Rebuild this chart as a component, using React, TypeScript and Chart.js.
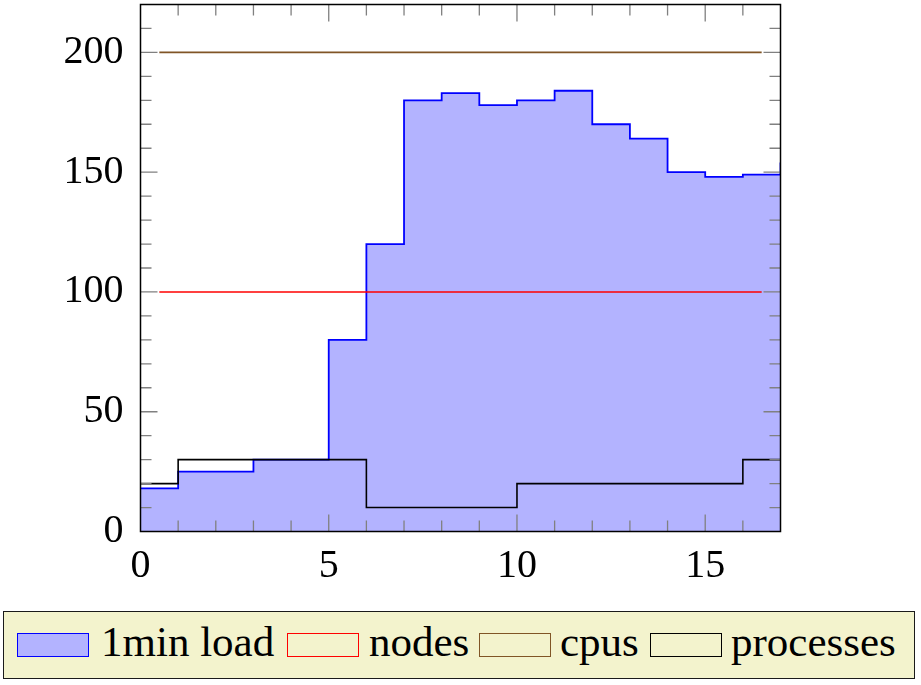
import { useEffect, useRef } from "react";
import { Chart, registerables, Plugin } from "chart.js";
Chart.register(...registerables);

// time steps (each value holds until the next step)
const steps = [0, 1, 2, 3, 4, 5, 6, 7, 8, 9, 10, 11, 12, 13, 14, 15, 16, 17];
const loadValues = [18, 25, 25, 30, 30, 80, 120, 180, 183, 178, 180, 184, 170, 164, 150, 148, 149, 154];
const processValues = [20, 30, 30, 30, 30, 30, 10, 10, 10, 10, 20, 20, 20, 20, 20, 20, 30, 30];

// nodes / cpus are sampled at the middle of each step
const midSteps = [0.5, 1.5, 2.5, 3.5, 4.5, 5.5, 6.5, 7.5, 8.5, 9.5, 10.5, 11.5, 12.5, 13.5, 14.5, 15.5, 16.5];
const nodeValues = [100, 100, 100, 100, 100, 100, 100, 100, 100, 100, 100, 100, 100, 100, 100, 100, 100];
const cpuValues = [200, 200, 200, 200, 200, 200, 200, 200, 200, 200, 200, 200, 200, 200, 200, 200, 200];

const xTicks = [0, 5, 10, 15];
const yTicks = [0, 50, 100, 150, 200];

const seriesNames = ["1min load", "nodes", "cpus", "processes"];
const seriesColors = ["#0000ff", "#ff0000", "#805526", "#000000"];
const loadFill = "#b3b3ff";

const FONT = "'Liberation Serif', 'Times New Roman', serif";

const toPoints = (xs: number[], ys: number[]) => xs.map((x, i) => ({ x, y: ys[i] }));

// pgfplots-like frame with inward ticks on all four sides
const framePlugin: Plugin = {
  id: "frame",
  afterDatasetsDraw(chart) {
    const { ctx, chartArea: a } = chart;
    const xs = chart.scales.x;
    const ys = chart.scales.y;
    ctx.save();
    ctx.strokeStyle = "#808080";
    ctx.lineWidth = 1.3;
    ctx.beginPath();
    for (let v = 1; v < 17; v++) {
      const len = v % 5 === 0 ? 17 : 11;
      const px = xs.getPixelForValue(v);
      ctx.moveTo(px, a.bottom);
      ctx.lineTo(px, a.bottom - len);
      ctx.moveTo(px, a.top);
      ctx.lineTo(px, a.top + len);
    }
    for (let v = 10; v < 220; v += 10) {
      const len = v % 50 === 0 ? 17 : 11;
      const py = ys.getPixelForValue(v);
      ctx.moveTo(a.left, py);
      ctx.lineTo(a.left + len, py);
      ctx.moveTo(a.right, py);
      ctx.lineTo(a.right - len, py);
    }
    ctx.stroke();
    ctx.strokeStyle = "#000000";
    ctx.lineWidth = 1.5;
    ctx.strokeRect(a.left, a.top, a.right - a.left, a.bottom - a.top);
    ctx.restore();
  },
};

const LoadChart = () => {
  const canvasRef = useRef<HTMLCanvasElement>(null);

  useEffect(() => {
    const canvas = canvasRef.current;
    if (!canvas) return;

    const chart = new Chart(canvas, {
      type: "line",
      data: {
        datasets: [
          {
            label: seriesNames[0],
            data: toPoints(steps, loadValues),
            stepped: "before",
            fill: "origin",
            backgroundColor: loadFill,
            borderColor: seriesColors[0],
            borderWidth: 1.8,
            pointRadius: 0,
            order: 4,
          },
          {
            label: seriesNames[1],
            data: toPoints(midSteps, nodeValues),
            borderColor: seriesColors[1],
            borderWidth: 1.4,
            pointRadius: 0,
            fill: false,
            order: 3,
          },
          {
            label: seriesNames[2],
            data: toPoints(midSteps, cpuValues),
            borderColor: seriesColors[2],
            borderWidth: 1.6,
            pointRadius: 0,
            fill: false,
            order: 2,
          },
          {
            label: seriesNames[3],
            data: toPoints(steps, processValues),
            stepped: "before",
            borderColor: seriesColors[3],
            borderWidth: 1.6,
            pointRadius: 0,
            fill: false,
            order: 1,
          },
        ],
      },
      options: {
        responsive: false,
        animation: false,
        events: [],
        layout: { padding: { left: 0, right: 140.5, top: 4.5, bottom: 0 } },
        plugins: {
          legend: { display: false },
          tooltip: { enabled: false },
        },
        scales: {
          x: {
            type: "linear",
            min: 0,
            max: 17,
            grid: { display: false, drawTicks: false },
            border: { display: false },
            ticks: {
              color: "#000",
              font: { family: FONT, size: 40 },
              padding: 11,
              autoSkip: false,
              maxRotation: 0,
            },
            afterBuildTicks: (s) => {
              s.ticks = xTicks.map((value) => ({ value }));
            },
            afterFit: (s) => {
              s.height = 68.5;
              s.paddingLeft = 0;
              s.paddingRight = 0;
              s.paddingTop = 0;
              s.paddingBottom = 0;
            },
          },
          y: {
            type: "linear",
            min: 0,
            max: 220,
            grid: { display: false, drawTicks: false },
            border: { display: false },
            ticks: {
              color: "#000",
              font: { family: FONT, size: 40 },
              padding: 17,
            },
            afterBuildTicks: (s) => {
              s.ticks = yTicks.map((value) => ({ value }));
            },
            afterFit: (s) => {
              s.width = 140.5;
              s.paddingLeft = 0;
              s.paddingRight = 0;
              s.paddingTop = 0;
              s.paddingBottom = 0;
            },
          },
        },
      },
      plugins: [framePlugin],
    });

    return () => {
      chart.destroy();
    };
  }, []);

  return <canvas ref={canvasRef} width={921} height={600} style={{ display: "block" }} />;
};

const swatchLeft = [17, 287, 479, 650];
const labelLeft = [101, 369, 560, 731];

const Legend = () => (
  <div>
    <div
      style={{
        position: "absolute",
        left: 3,
        top: 611,
        width: 912,
        height: 68,
        boxSizing: "border-box",
        border: "1.5px solid #1a1a1a",
        background: "#f3f3cd",
      }}
    />
    {seriesNames.map((name, i) => (
      <div key={name}>
        <div
          style={{
            position: "absolute",
            left: swatchLeft[i],
            top: 633,
            width: 72,
            height: 24,
            boxSizing: "border-box",
            border: `1.6px solid ${seriesColors[i]}`,
            background: i === 0 ? loadFill : "transparent",
          }}
        />
        <span
          style={{
            position: "absolute",
            left: labelLeft[i],
            top: 621,
            fontFamily: FONT,
            fontSize: 43,
            lineHeight: "42px",
            color: "#000",
            whiteSpace: "nowrap",
          }}
        >
          {name}
        </span>
      </div>
    ))}
  </div>
);

export default function App() {
  useEffect(() => {
    document.body.style.margin = "0";
  }, []);

  return (
    <div style={{ position: "relative", width: 921, height: 685, background: "#fff" }}>
      <LoadChart />
      <Legend />
    </div>
  );
}
